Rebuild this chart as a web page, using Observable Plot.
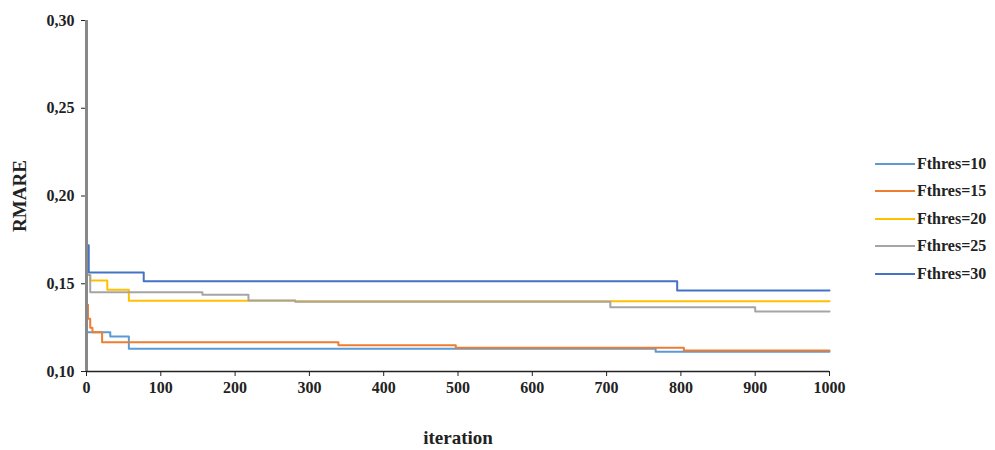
<!DOCTYPE html>
<html>
<head>
<meta charset="utf-8">
<script src="https://cdn.jsdelivr.net/npm/d3@7"></script>
<script src="https://cdn.jsdelivr.net/npm/@observablehq/plot@0.6"></script>
<style>
  html, body { margin: 0; padding: 0; background: #fff; }
  #wrap { position: relative; width: 995px; height: 450px; font-family: 'Liberation Serif', 'DejaVu Serif', serif; }
  #legend { position: absolute; left: 875px; top: 150px; font-weight: bold; font-size: 16px; color: #222; }
  .item { display: flex; align-items: center; height: 27.5px; }
  .sw { width: 40px; height: 2px; margin-right: 2px; }
  svg text { font-family: 'Liberation Serif', 'DejaVu Serif', serif; }
</style>
</head>
<body>
<div id="wrap"><div id="legend"></div></div>
<script>
const seriesNames = ["Fthres=10", "Fthres=15", "Fthres=20", "Fthres=25", "Fthres=30"];
const seriesColors = ["#5B9BD5", "#ED7D31", "#FFC000", "#A5A5A5", "#4472C4"];

const iter10 = [0, 32, 57, 766, 1000];
const rmare10 = [0.1224, 0.1200, 0.1129, 0.1113, 0.1113];

const iter15 = [0, 2, 5, 8, 21, 339, 497, 804, 1000];
const rmare15 = [0.138, 0.130, 0.125, 0.1224, 0.1167, 0.1150, 0.1136, 0.1120, 0.1120];

const iter20 = [0, 5, 28, 57, 281, 1000];
const rmare20 = [0.155, 0.1519, 0.1466, 0.1403, 0.1400, 0.1400];

const iter25 = [0, 5, 156, 218, 281, 705, 900, 1000];
const rmare25 = [0.155, 0.1452, 0.1437, 0.1405, 0.1398, 0.1366, 0.1342, 0.1342];

const iter30 = [0, 3, 77, 795, 1000];
const rmare30 = [0.172, 0.1564, 0.1514, 0.1462, 0.1462];

const xTicks = [0, 100, 200, 300, 400, 500, 600, 700, 800, 900, 1000];
const yTicks = [0.10, 0.15, 0.20, 0.25, 0.30];

const iters = [iter10, iter15, iter20, iter25, iter30];
const vals = [rmare10, rmare15, rmare20, rmare25, rmare30];
const data = [];
seriesNames.forEach((name, k) => {
  iters[k].forEach((it, j) => data.push({series: name, iteration: it, rmare: vals[k][j]}));
});

const chart = Plot.plot({
  width: 995,
  height: 450,
  marginLeft: 86,
  marginRight: 166,
  marginTop: 20,
  marginBottom: 79,
  style: {fontFamily: "'Liberation Serif', 'DejaVu Serif', serif", fontWeight: "bold", fontSize: "16px", color: "#222", background: "#fff"},
  x: {domain: [0, 1000], ticks: xTicks, label: null},
  y: {domain: [0.10, 0.30], ticks: yTicks, label: null},
  color: {domain: seriesNames, range: seriesColors},
  marks: [
    Plot.axisX({ticks: xTicks, tickSize: 5, tickPadding: 5, tickFormat: d => String(d), label: "iteration", labelAnchor: "center", labelArrow: "none", labelOffset: 72, fontSize: 16}),
    Plot.axisY({ticks: yTicks, tickSize: 5, tickPadding: 7, tickFormat: d => d.toFixed(2).replace(".", ","), label: "RMARE", labelAnchor: "center", labelArrow: "none", labelOffset: 74, fontSize: 16}),
    Plot.lineY(data, {x: "iteration", y: "rmare", z: "series", stroke: "series", strokeWidth: 2, curve: "step-after"}),
    Plot.ruleX([0], {stroke: "#888", strokeWidth: 3}),
    Plot.ruleY([0.10], {stroke: "#222", strokeWidth: 1.5})
  ]
});
chart.querySelectorAll("g[aria-label='x-axis label'] text, g[aria-label='y-axis label'] text").forEach(t => t.setAttribute("font-size", "19"));
document.getElementById("wrap").insertBefore(chart, document.getElementById("legend"));

const legend = document.getElementById("legend");
seriesNames.forEach((name, k) => {
  const item = document.createElement("div");
  item.className = "item";
  const sw = document.createElement("div");
  sw.className = "sw";
  sw.style.background = seriesColors[k];
  const lab = document.createElement("span");
  lab.textContent = name;
  item.appendChild(sw);
  item.appendChild(lab);
  legend.appendChild(item);
});
</script>
</body>
</html>
